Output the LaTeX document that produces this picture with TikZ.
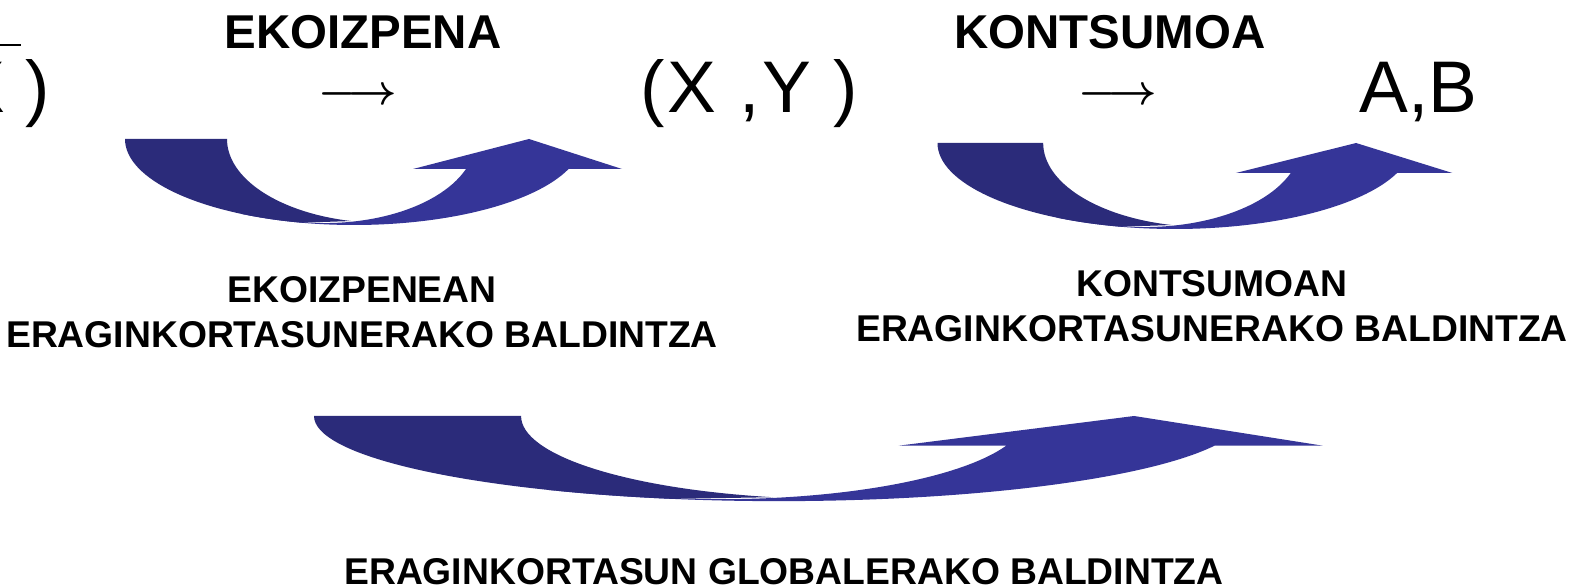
\documentclass[tikz,border=0pt]{standalone}
\usepackage{fontspec}
\setmainfont{Liberation Sans}
\usepackage{tikz}

\definecolor{bandback}{RGB}{43,43,122}
\definecolor{bandfront}{RGB}{53,53,152}

% curved up arrow, local units: px, origin at its top left corner
\newcommand{\bentarrow}{%
  \fill[bandfront] ([shift={(240:229 and 86)}]229,0)
    arc[start angle=240, end angle=339.6, x radius=229, y radius=86]
    -- (497,-30) -- (404,0) -- (288,-30) -- (341,-30)
    arc[start angle=339.1, end angle=250.4, x radius=151, y radius=84] -- cycle;
  \fill[bandback] (0,0) -- (102,0)
    arc[start angle=180, end angle=257.6, x radius=158, y radius=84]
    -- ([shift={(256.8:229 and 86)}]229,0)
    arc[start angle=256.8, end angle=180, x radius=229, y radius=86] -- cycle;
}

\tikzset{
  stagename/.style={font=\fontsize{13.5}{16}\selectfont\bfseries, inner sep=0pt, anchor=base},
  bundle/.style={font=\fontsize{20.8}{25}\selectfont, inner sep=0pt},
  mapto/.style={font=\fontsize{12.8}{15}\selectfont\boldmath, inner sep=0pt, anchor=base},
  condition/.style={font=\fontsize{10.6}{12.8}\selectfont\bfseries, inner sep=0pt, align=center},
}

\begin{document}
\begin{tikzpicture}[x=0.01cm,y=0.01cm]
\useasboundingbox (0,0) rectangle (1587,-588);
\fill[white] (0,0) rectangle (1587,-588);

% top row
\node (endow) [bundle, anchor=base east] at (51,-113) {\rlap{\raisebox{18.95pt}{\rule{18.2pt}{0.8pt}}}X )};
\node (prod) [stagename] at (363,-49) {EKOIZPENA};
\node (prodto) [mapto] at (358,-105) {$\longrightarrow$};
\node (xy) [bundle, anchor=base west] at (640,-113) {\addfontfeature{LetterSpace=3.5}(X ,Y )};
\node (cons) [stagename] at (1110,-49) {KONTSUMOA};
\node (consto) [mapto] at (1118,-105) {$\longrightarrow$};
\node (ab) [bundle, anchor=base west] at (1359,-113) {A,B};

% curved arrows
\begin{scope}[shift={(125,-139)}]
  \bentarrow
\end{scope}
\begin{scope}[shift={(937.5,-143)}, xscale=1.036]
  \bentarrow
\end{scope}
\begin{scope}[shift={(314,-416)}, xscale=2.03, yscale=0.99]
  \bentarrow
\end{scope}

% conditions
\node (prodcond) [condition, anchor=north] at (362,-276) {EKOIZPENEAN\\ERAGINKORTASUNERAKO BALDINTZA};
\node (conscond) [condition, anchor=north] at (1212,-269.5) {KONTSUMOAN\\ERAGINKORTASUNERAKO BALDINTZA};
\node (globcond) [condition, anchor=base] at (784,-584) {ERAGINKORTASUN GLOBALERAKO BALDINTZA};
\end{tikzpicture}
\end{document}
